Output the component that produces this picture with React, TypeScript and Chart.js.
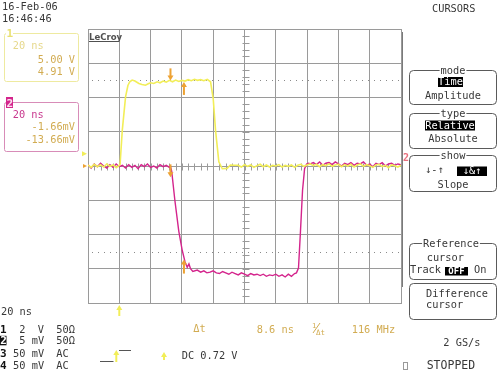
import React, { useEffect, useRef } from 'react';
import { Chart, registerables } from 'chart.js';

Chart.register(...registerables);

// ---- Data (time in ns, channel 1 in V, channel 2 in mV) ----
const ch1Time = [0, 2, 4, 6, 8, 10, 12, 14, 16, 18, 20, 20.5, 21.9, 24, 25.5, 26.7, 28.2, 30, 32.5, 34.5, 36.7, 38.5, 40, 42, 44.2, 46, 48, 50, 52, 54, 56, 58, 60, 62, 64, 66, 68, 70, 72, 74, 76.2, 78.3, 80, 81.5, 83.6, 85.8, 88.9, 91, 93.2,
  96, 98, 100, 102, 104, 106, 108, 110, 112, 114, 116, 118, 120, 122, 124, 126, 128, 130, 132, 134, 136, 138, 140, 142, 144, 146, 148, 150, 152, 154, 156, 158, 160, 162, 164, 166, 168, 170, 172, 174, 176, 178, 180, 182, 184, 186, 188, 190, 192, 194, 196, 198, 200];
const ch1Volts = [0.06, -0.08, 0.1, -0.04, 0.08, -0.06, 0.12, -0.02, 0.06, -0.1, 0.04, 0.1, 2.08, 4.04, 4.7, 4.92, 5.02, 4.96, 4.82, 4.76, 4.72, 4.8, 4.86, 4.82, 4.92, 4.86, 4.96, 4.9, 5.0, 4.92, 5.02, 4.94, 5.0, 4.96, 5.04, 4.98, 5.06, 5.0, 5.04, 4.98, 5.06, 4.92, 3.94, 2.08, 0.24, -0.16, -0.14, 0.06, 0.04,
  0.04, -0.06, 0.08, -0.02, 0.06, -0.08, 0.02, 0.1, -0.04, 0.06, -0.06, 0.04, 0.0, 0.08, -0.06, 0.04, -0.02, 0.06, -0.08, 0.04, 0.1, -0.02, 0.06, 0.12, 0.02, 0.1, -0.04, 0.08, 0.02, 0.12, -0.02, 0.06, 0.1, -0.04, 0.08, 0.0, 0.1, -0.06, 0.06, 0.12, -0.02, 0.08, 0.02, -0.08, 0.06, 0.1, -0.04, 0.04, -0.1, 0.06, 0.02, -0.06, 0.04];

const ch2Time = [0, 2, 4, 6, 8, 10, 12, 14, 16, 18, 20, 22, 24, 26, 28, 30, 32, 34, 36, 38, 40, 42, 44, 46, 48, 50, 52,
  52.7, 53.5, 55.5, 58, 60.2, 62, 63.4, 64.5, 65.5, 67, 69.8,
  72, 74, 76, 78, 80, 82, 84, 86, 88, 90, 92, 94, 96, 98, 100, 102, 104, 106, 108, 110, 112, 114, 116, 118, 120, 122, 124, 126, 128, 130, 132,
  133.2, 134.5, 135.8, 137.1, 138.4, 139.7, 141,
  142, 144, 146, 148, 150, 152, 154, 156, 158, 160, 162, 164, 166, 168, 170, 172, 174, 176, 178, 180, 182, 184, 186, 188, 190, 192, 194, 196, 198, 200];
const ch2MilliVolts = [0.2, -0.3, 0.3, -0.1, 0.4, 0.0, -0.3, 0.2, -0.2, 0.3, -0.1, 0.1, -0.3, 0.2, -0.2, 0.1, -0.4, 0.2, -0.1, 0.3, -0.2, 0.0, -0.3, 0.2, -0.1, 0.1, -0.2,
  -0.1, -0.8, -5.0, -9.5, -12.3, -14.0, -14.8, -14.3, -15.0, -15.4, -15.2,
  -15.5, -15.3, -15.6, -15.5, -15.3, -15.6, -15.7, -15.4, -15.6, -15.8, -15.5, -15.7, -15.9, -15.6, -15.8, -16.0, -15.7, -15.9, -15.8, -16.0, -15.8, -16.1, -15.9, -16.0, -15.8, -16.1, -15.9, -16.2, -15.8, -16.1, -15.7,
  -15.6, -14.9, -9.4, -3.5, -0.4, 0.3, 0.4,
  0.3, 0.5, 0.2, 0.6, 0.1, 0.4, 0.5, 0.2, 0.6, 0.3, 0.0, 0.4, 0.2, 0.5, 0.1, 0.4, 0.3, 0.6, 0.1, 0.3, -0.1, 0.4, 0.2, 0.5, 0.0, 0.3, 0.4, 0.1, 0.3, 0.2];

const cursorTimesNs = [52.7, 61.3];
const ch1CursorVolts = [5.0, 4.91];
const ch2CursorMilliVolts = [-1.66, -13.66];
const dottedLevelsV = [5, -5];
const triggerTimeNs = 20;
const triggerLevelV = 0.72;
const timeRangeNs = [0, 200];
const ch1RangeV = [-8, 8];
const ch2RangeMv = [-20, 20];

const dateLabel = '16-Feb-06';
const timeLabel = '16:46:46';
const timebaseLabel = '20 ns';
const ch1Readouts = ['20 ns', '5.00 V', '4.91 V'];
const ch2Readouts = ['20 ns', '-1.66mV', '-13.66mV'];
const channelRows = [
  ['1', '2', 'V', '50Ω'],
  ['2', '5', 'mV', '50Ω'],
  ['3', '50', 'mV', 'AC'],
  ['4', '50', 'mV', 'AC'],
];
const deltaTLabel = '8.6 ns';
const freqLabel = '116 MHz';
const triggerLabel = 'DC 0.72 V';

const YELLOW = '#f2ee58';
const MAGENTA = '#d4248c';
const ORANGE = '#eda233';
const GOLD = '#d2ac52';
const GRID = '#9a9a9a';
const TEXT = '#383838';
const MONO = '10.3px "DejaVu Sans Mono", monospace';
const BOLD_MONO = 'bold 11px "DejaVu Sans Mono", monospace';

function txt(ctx: CanvasRenderingContext2D, s: string, x: number, y: number, color: string, font = MONO, align: CanvasTextAlign = 'left') {
  ctx.font = font;
  ctx.fillStyle = color;
  ctx.textAlign = align;
  ctx.textBaseline = 'alphabetic';
  ctx.fillText(s, x, y);
}

function inv(ctx: CanvasRenderingContext2D, s: string, x: number, y: number, w: number, h: number, font = MONO) {
  ctx.fillStyle = '#000';
  ctx.fillRect(x, y, w, h);
  ctx.font = font;
  ctx.fillStyle = '#fff';
  ctx.textAlign = 'center';
  ctx.textBaseline = 'middle';
  ctx.fillText(s, x + w / 2, y + h / 2 + 0.5);
}

function rbox(ctx: CanvasRenderingContext2D, x: number, y: number, w: number, h: number, color: string, r = 4) {
  ctx.save();
  ctx.strokeStyle = color;
  ctx.lineWidth = 1;
  ctx.beginPath();
  ctx.roundRect(x + 0.5, y + 0.5, w, h, r);
  ctx.stroke();
  ctx.restore();
}

function boxLabel(ctx: CanvasRenderingContext2D, s: string, cx: number, y: number) {
  ctx.font = MONO;
  const w = ctx.measureText(s).width;
  ctx.fillStyle = '#fff';
  ctx.fillRect(cx - w / 2 - 1, y - 4, w + 2, 8);
  txt(ctx, s, cx, y + 3.5, TEXT, MONO, 'center');
}

function arrow(ctx: CanvasRenderingContext2D, x: number, tipY: number, dir: 1 | -1, color: string, len = 12) {
  // dir 1 = pointing down (tip below tail), -1 = pointing up
  const tail = tipY - dir * len;
  ctx.save();
  ctx.strokeStyle = color;
  ctx.fillStyle = color;
  ctx.lineWidth = 2;
  ctx.beginPath();
  ctx.moveTo(x, tail);
  ctx.lineTo(x, tipY - dir * 4);
  ctx.stroke();
  ctx.beginPath();
  ctx.moveTo(x - 3, tipY - dir * 5);
  ctx.lineTo(x + 3, tipY - dir * 5);
  ctx.lineTo(x, tipY);
  ctx.closePath();
  ctx.fill();
  ctx.restore();
}

const scopePlugin = {
  id: 'scopeDecor',
  beforeDraw(chart: any) {
    const ctx = chart.ctx as CanvasRenderingContext2D;
    ctx.save();
    ctx.fillStyle = '#fff';
    ctx.fillRect(0, 0, chart.width, chart.height);
    ctx.restore();
  },
  beforeDatasetsDraw(chart: any) {
    const ctx = chart.ctx as CanvasRenderingContext2D;
    const xs = chart.scales.x;
    const ys = chart.scales.y;
    const area = chart.chartArea;
    ctx.save();
    // dotted cursor levels
    ctx.strokeStyle = '#8a8a8a';
    ctx.lineWidth = 1;
    ctx.setLineDash([1, 5]);
    dottedLevelsV.forEach((v) => {
      const y = Math.round(ys.getPixelForValue(v)) + 0.5;
      ctx.beginPath();
      ctx.moveTo(area.left + 4, y);
      ctx.lineTo(area.right - 2, y);
      ctx.stroke();
    });
    ctx.setLineDash([]);
    // center minor ticks
    ctx.strokeStyle = GRID;
    const cx = Math.round(xs.getPixelForValue((timeRangeNs[0] + timeRangeNs[1]) / 2)) + 0.5;
    const cy = Math.round(ys.getPixelForValue(0)) + 0.5;
    for (let v = ch1RangeV[0]; v <= ch1RangeV[1] + 1e-6; v += 0.4) {
      const y = Math.round(ys.getPixelForValue(v)) + 0.5;
      ctx.beginPath();
      ctx.moveTo(cx - 3, y);
      ctx.lineTo(cx + 4, y);
      ctx.stroke();
    }
    for (let t = timeRangeNs[0]; t <= timeRangeNs[1] + 1e-6; t += 4) {
      const x = Math.round(xs.getPixelForValue(t)) + 0.5;
      ctx.beginPath();
      ctx.moveTo(x, cy - 3);
      ctx.lineTo(x, cy + 4);
      ctx.stroke();
    }
    ctx.restore();
  },
  afterDatasetsDraw(chart: any) {
    const ctx = chart.ctx as CanvasRenderingContext2D;
    const xs = chart.scales.x;
    const ys = chart.scales.y;
    const y2 = chart.scales.y2;
    const area = chart.chartArea;
    ctx.save();

    // cursor arrows
    const c1 = xs.getPixelForValue(cursorTimesNs[0]);
    const c2 = xs.getPixelForValue(cursorTimesNs[1]);
    arrow(ctx, c1, ys.getPixelForValue(ch1CursorVolts[0]), 1, ORANGE, 12);
    arrow(ctx, c2, ys.getPixelForValue(ch1CursorVolts[1]), -1, ORANGE, 13);
    arrow(ctx, c1, y2.getPixelForValue(ch2CursorMilliVolts[0]), 1, ORANGE, 13);
    arrow(ctx, c2, y2.getPixelForValue(ch2CursorMilliVolts[1]), -1, ORANGE, 14);

    // trigger level marker (left) and trigger time marker (below)
    const ty = ys.getPixelForValue(triggerLevelV);
    ctx.fillStyle = YELLOW;
    ctx.beginPath();
    ctx.moveTo(area.left - 6, ty - 2.5);
    ctx.lineTo(area.left - 1, ty);
    ctx.lineTo(area.left - 6, ty + 2.5);
    ctx.closePath();
    ctx.fill();
    const gy = ys.getPixelForValue(0);
    ctx.fillStyle = ORANGE;
    ctx.beginPath();
    ctx.moveTo(area.left - 5, gy - 2);
    ctx.lineTo(area.left - 1, gy);
    ctx.lineTo(area.left - 5, gy + 2);
    ctx.closePath();
    ctx.fill();
    arrow(ctx, xs.getPixelForValue(triggerTimeNs), area.bottom + 2, -1, YELLOW, 11);
    // channel 2 marker on the right
    txt(ctx, '2', area.right + 2, gy - 5, '#e8707e', 'bold 10px "DejaVu Sans Mono", monospace');

    // right border strip
    ctx.strokeStyle = '#7a7a7a';
    ctx.lineWidth = 1;
    ctx.beginPath();
    ctx.moveTo(402.5, 32);
    ctx.lineTo(402.5, 287);
    ctx.stroke();

    // LeCroy label
    ctx.fillStyle = '#fff';
    ctx.fillRect(area.left + 1, area.top + 1, 29, 13);
    txt(ctx, 'LeCroy', area.left + 1, area.top + 11, '#505050', 'bold 9.5px "DejaVu Sans Condensed", "DejaVu Sans", sans-serif');
    ctx.fillStyle = '#505050';
    ctx.fillRect(area.left + 1, area.top + 12, 29, 1);

    // top-left date/time
    txt(ctx, dateLabel, 2, 9.5, TEXT);
    txt(ctx, timeLabel, 2, 21.7, TEXT);

    // channel 1 box
    rbox(ctx, 4, 33, 74, 48, '#eeeaa0', 2);
    ctx.fillStyle = '#fff';
    ctx.fillRect(6, 28, 7, 10);
    txt(ctx, '1', 6.5, 37, '#e8e070', BOLD_MONO);
    txt(ctx, ch1Readouts[0], 12.7, 49.3, '#e6d88c');
    txt(ctx, ch1Readouts[1], 75, 62.7, GOLD, MONO, 'right');
    txt(ctx, ch1Readouts[2], 75, 75, GOLD, MONO, 'right');

    // channel 2 box
    rbox(ctx, 4, 102, 74, 49, '#d88cb8', 2);
    ctx.fillStyle = MAGENTA;
    ctx.fillRect(6, 97, 7, 11);
    txt(ctx, '2', 6.5, 106.5, '#fbe0ee', BOLD_MONO);
    txt(ctx, ch2Readouts[0], 12.7, 118.3, '#c8388e');
    txt(ctx, ch2Readouts[1], 75, 130, GOLD, MONO, 'right');
    txt(ctx, ch2Readouts[2], 75, 142.7, GOLD, MONO, 'right');

    // right panel
    txt(ctx, 'CURSORS', 432, 11.7, TEXT);
    rbox(ctx, 409, 70, 87, 34, '#5a5a5a');
    boxLabel(ctx, 'mode', 453, 70.5);
    inv(ctx, 'Time', 438, 77, 25, 10);
    txt(ctx, 'Amplitude', 453, 99, TEXT, MONO, 'center');

    rbox(ctx, 409, 113, 87, 35, '#5a5a5a');
    boxLabel(ctx, 'type', 453, 113.5);
    inv(ctx, 'Relative', 425, 120.5, 50, 10);
    txt(ctx, 'Absolute', 453, 142.3, TEXT, MONO, 'center');

    rbox(ctx, 409, 155, 87, 36, '#5a5a5a');
    boxLabel(ctx, 'show', 453, 155.5);
    txt(ctx, '↓-↑', 425, 173.3, TEXT);
    inv(ctx, '↓&↑', 457, 166.5, 30, 9.5);
    txt(ctx, 'Slope', 453, 188.3, TEXT, MONO, 'center');

    rbox(ctx, 409, 243, 87, 36, '#5a5a5a');
    boxLabel(ctx, 'Reference', 451, 243.5);
    txt(ctx, 'cursor', 426.7, 261, TEXT);
    txt(ctx, 'Track', 410, 272.7, TEXT);
    inv(ctx, 'OFF', 445, 267, 23, 8.5, 'bold 9px "DejaVu Sans Mono", monospace');
    txt(ctx, 'On', 474, 272.7, TEXT);

    rbox(ctx, 409, 283, 87, 36, '#5a5a5a');
    txt(ctx, 'Difference', 426, 296.7, TEXT);
    txt(ctx, 'cursor', 426, 308.3, TEXT);

    txt(ctx, '2 GS/s', 443.3, 346, TEXT);
    ctx.strokeStyle = '#9a9a9a';
    ctx.strokeRect(403.5, 362.5, 4, 7);
    txt(ctx, 'STOPPED', 426.7, 369.3, TEXT, '11.5px "DejaVu Sans Mono", monospace');

    // bottom-left channel table
    txt(ctx, timebaseLabel, 1, 315, TEXT);
    const rowY = [332.7, 344.3, 356.7, 369.3];
    channelRows.forEach((row, i) => {
      const y = rowY[i];
      if (i === 1) {
        ctx.fillStyle = '#111';
        ctx.fillRect(0, y - 8.5, 6.5, 9.5);
        txt(ctx, row[0], 0.3, y, '#fff', BOLD_MONO);
      } else {
        txt(ctx, row[0], 0, y, '#111', BOLD_MONO);
      }
      txt(ctx, row[1], 25.5, y, TEXT, MONO, 'right');
      txt(ctx, row[2], row[2] === 'V' ? 37.7 : 31.7, y, TEXT);
      txt(ctx, row[3], 56.3, y, TEXT);
    });

    // measurement readouts
    txt(ctx, 'Δt', 193.3, 331.7, GOLD);
    txt(ctx, deltaTLabel, 256.7, 332.7, GOLD);
    txt(ctx, '1', 312, 328, GOLD, '7px "DejaVu Sans Mono", monospace');
    ctx.strokeStyle = GOLD;
    ctx.lineWidth = 1;
    ctx.beginPath();
    ctx.moveTo(313, 333);
    ctx.lineTo(320, 323);
    ctx.stroke();
    txt(ctx, 'Δt', 316, 334.5, GOLD, '7.5px "DejaVu Sans Mono", monospace');
    txt(ctx, freqLabel, 351.7, 332.7, GOLD);

    // trigger icon
    ctx.strokeStyle = '#555';
    ctx.beginPath();
    ctx.moveTo(100, 361.5);
    ctx.lineTo(113.5, 361.5);
    ctx.moveTo(119, 350.5);
    ctx.lineTo(131, 350.5);
    ctx.stroke();
    arrow(ctx, 116.3, 350, -1, YELLOW, 12);
    arrow(ctx, 164, 352, -1, YELLOW, 8);
    txt(ctx, triggerLabel, 181.7, 359.3, TEXT);

    ctx.restore();
  },
};

export default function App() {
  const canvasRef = useRef<HTMLCanvasElement | null>(null);

  useEffect(() => {
    const canvas = canvasRef.current;
    if (!canvas) return;
    const chart = new Chart(canvas, {
      type: 'line',
      data: {
        datasets: [
          {
            label: 'Channel 1',
            data: ch1Time.map((t, i) => ({ x: t, y: ch1Volts[i] })),
            borderColor: YELLOW,
            borderWidth: 1.6,
            pointRadius: 0,
            tension: 0,
            yAxisID: 'y',
          },
          {
            label: 'Channel 2',
            data: ch2Time.map((t, i) => ({ x: t, y: ch2MilliVolts[i] })),
            borderColor: MAGENTA,
            borderWidth: 1.4,
            pointRadius: 0,
            tension: 0,
            yAxisID: 'y2',
          },
        ],
      },
      options: {
        animation: false,
        responsive: false,
        devicePixelRatio: 1,
        parsing: false as any,
        normalized: true,
        layout: { padding: { left: 88, top: 29, right: 99, bottom: 72 } },
        plugins: { legend: { display: false }, tooltip: { enabled: false } },
        events: [],
        scales: {
          x: {
            type: 'linear',
            min: timeRangeNs[0],
            max: timeRangeNs[1],
            ticks: { display: false, stepSize: 20 },
            grid: { color: GRID, lineWidth: 1, drawTicks: false },
            border: { display: true, color: GRID },
          },
          y: {
            type: 'linear',
            min: ch1RangeV[0],
            max: ch1RangeV[1],
            ticks: { display: false, stepSize: 2 },
            grid: { color: GRID, lineWidth: 1, drawTicks: false },
            border: { display: true, color: GRID },
          },
          y2: {
            type: 'linear',
            display: false,
            min: ch2RangeMv[0],
            max: ch2RangeMv[1],
          },
        },
      },
      plugins: [scopePlugin],
    });
    return () => chart.destroy();
  }, []);

  return (
    <div style={{ position: 'fixed', left: 0, top: 0, width: 500, height: 375, background: '#fff' }}>
      <canvas ref={canvasRef} width={500} height={375} style={{ width: 500, height: 375, display: 'block' }} />
    </div>
  );
}
